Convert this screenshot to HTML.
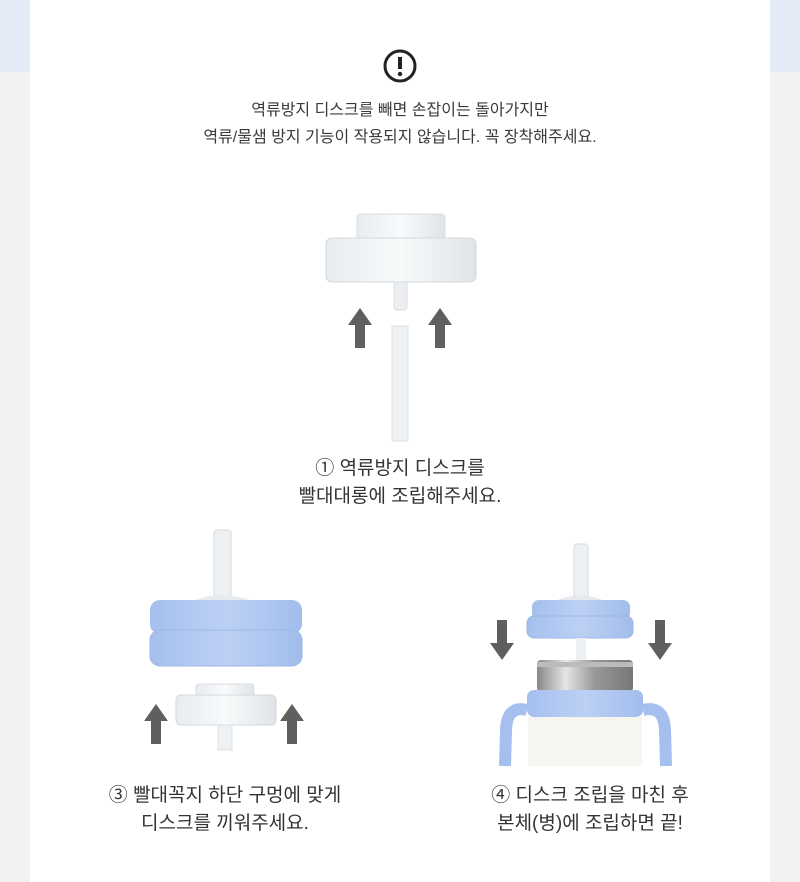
<!DOCTYPE html>
<html><head><meta charset="utf-8"><style>
body{margin:0;width:800px;height:882px;position:relative;overflow:hidden;background:#f2f2f3;font-family:"Liberation Sans","Noto Sans CJK KR",sans-serif}
.t{position:absolute;text-align:center;color:#3a3a3a}
</style></head><body>
<div style="position:absolute;left:0;top:0;width:30px;height:72px;background:#e3ebf6"></div>
<div style="position:absolute;right:0;top:0;width:30px;height:72px;background:#e3ebf6"></div>
<div style="position:absolute;left:30px;top:0;width:740px;height:882px;background:#fff"></div>
<svg style="position:absolute;left:0;top:0" width="800" height="882">
<defs>
<linearGradient id="cl" x1="0" x2="1"><stop offset="0" stop-color="#e8ecf0"/><stop offset=".5" stop-color="#f8fafb"/><stop offset="1" stop-color="#dfe4e8"/></linearGradient>
<linearGradient id="bl" x1="0" x2="1"><stop offset="0" stop-color="#a5c0ee"/><stop offset=".5" stop-color="#bcd0f4"/><stop offset="1" stop-color="#a2bdec"/></linearGradient>
<linearGradient id="sv" x1="0" x2="1"><stop offset="0" stop-color="#888"/><stop offset=".3" stop-color="#e5e5e5"/><stop offset=".6" stop-color="#999"/><stop offset="1" stop-color="#777"/></linearGradient>
<g id="up"><polygon points="0,0 -12,17 -5,17 -5,40 5,40 5,17 12,17" fill="#5f5f5f"/></g>
<g id="dn"><polygon points="0,40 -12,23 -5,23 -5,0 5,0 5,23 12,23" fill="#5f5f5f"/></g>
</defs>
<circle cx="400" cy="66" r="15" fill="none" stroke="#222" stroke-width="3"/>
<rect x="398" y="57" width="4" height="12" fill="#222"/><circle cx="400" cy="74" r="2.2" fill="#222"/>
<!-- step1 -->
<rect x="357" y="214" width="88" height="26" rx="4" fill="url(#cl)" stroke="#d8dde2"/>
<rect x="326" y="238" width="150" height="44" rx="6" fill="url(#cl)" stroke="#d3d9de"/>
<rect x="394" y="282" width="13" height="28" rx="3" fill="#eceff2" stroke="#d8dde2"/>
<rect x="392" y="326" width="16" height="115" fill="#eef1f3" stroke="#dde2e6"/>
<use href="#up" x="360" y="308"/><use href="#up" x="440" y="308"/>
<!-- step3 -->
<rect x="214" y="530" width="17" height="70" rx="3" fill="#eef1f3" stroke="#d5dade"/>
<path d="M185 605 Q222 585 260 605 Z" fill="#e6eaee"/>
<rect x="150" y="600" width="152" height="34" rx="10" fill="url(#bl)"/>
<rect x="150" y="630" width="152" height="36" rx="10" fill="url(#bl)" stroke="#9db7e6"/>
<rect x="196" y="684" width="58" height="14" rx="3" fill="url(#cl)" stroke="#d8dde2"/>
<rect x="176" y="695" width="100" height="30" rx="5" fill="url(#cl)" stroke="#d3d9de"/>
<rect x="218" y="725" width="14" height="25" fill="#eef1f3" stroke="#dde2e6"/>
<use href="#up" x="156" y="704"/><use href="#up" x="292" y="704"/>
<!-- step4 -->
<rect x="574" y="544" width="14" height="55" rx="3" fill="#eef1f3" stroke="#d5dade"/>
<path d="M545 606 Q580 585 615 606 Z" fill="#e6eaee"/>
<rect x="532" y="600" width="98" height="20" rx="7" fill="url(#bl)"/>
<rect x="527" y="616" width="106" height="22" rx="7" fill="url(#bl)" stroke="#9db7e6"/>
<rect x="576" y="638" width="10" height="22" fill="#eef1f3"/>
<use href="#dn" x="502" y="620"/><use href="#dn" x="660" y="620"/>
<path d="M527 710 Q507 705 506 730 L505 766" fill="none" stroke="#a5c0ee" stroke-width="12"/>
<path d="M643 710 Q664 705 665 730 L666 766" fill="none" stroke="#a5c0ee" stroke-width="12"/>
<rect x="537" y="660" width="96" height="32" rx="4" fill="url(#sv)"/>
<rect x="537" y="662" width="96" height="5" fill="#bbb"/>
<rect x="527" y="690" width="116" height="27" rx="7" fill="url(#bl)"/>
<rect x="528" y="717" width="114" height="49" fill="#f6f5ef"/>
</svg>
<div class="t" style="left:0;width:800px;top:97px;font-size:16px;line-height:27px">역류방지 디스크를 빼면 손잡이는 돌아가지만<br>역류/물샘 방지 기능이 작용되지 않습니다. 꼭 장착해주세요.</div>
<div class="t" style="left:0;width:800px;top:455px;font-size:19px;line-height:28px;color:#333">① 역류방지 디스크를<br>빨대대롱에 조립해주세요.</div>
<div class="t" style="left:40px;width:370px;top:782px;font-size:19px;line-height:28px;color:#333">③ 빨대꼭지 하단 구멍에 맞게<br>디스크를 끼워주세요.</div>
<div class="t" style="left:405px;width:370px;top:782px;font-size:19px;line-height:28px;color:#333">④ 디스크 조립을 마친 후<br>본체(병)에 조립하면 끝!</div>
</body></html>
